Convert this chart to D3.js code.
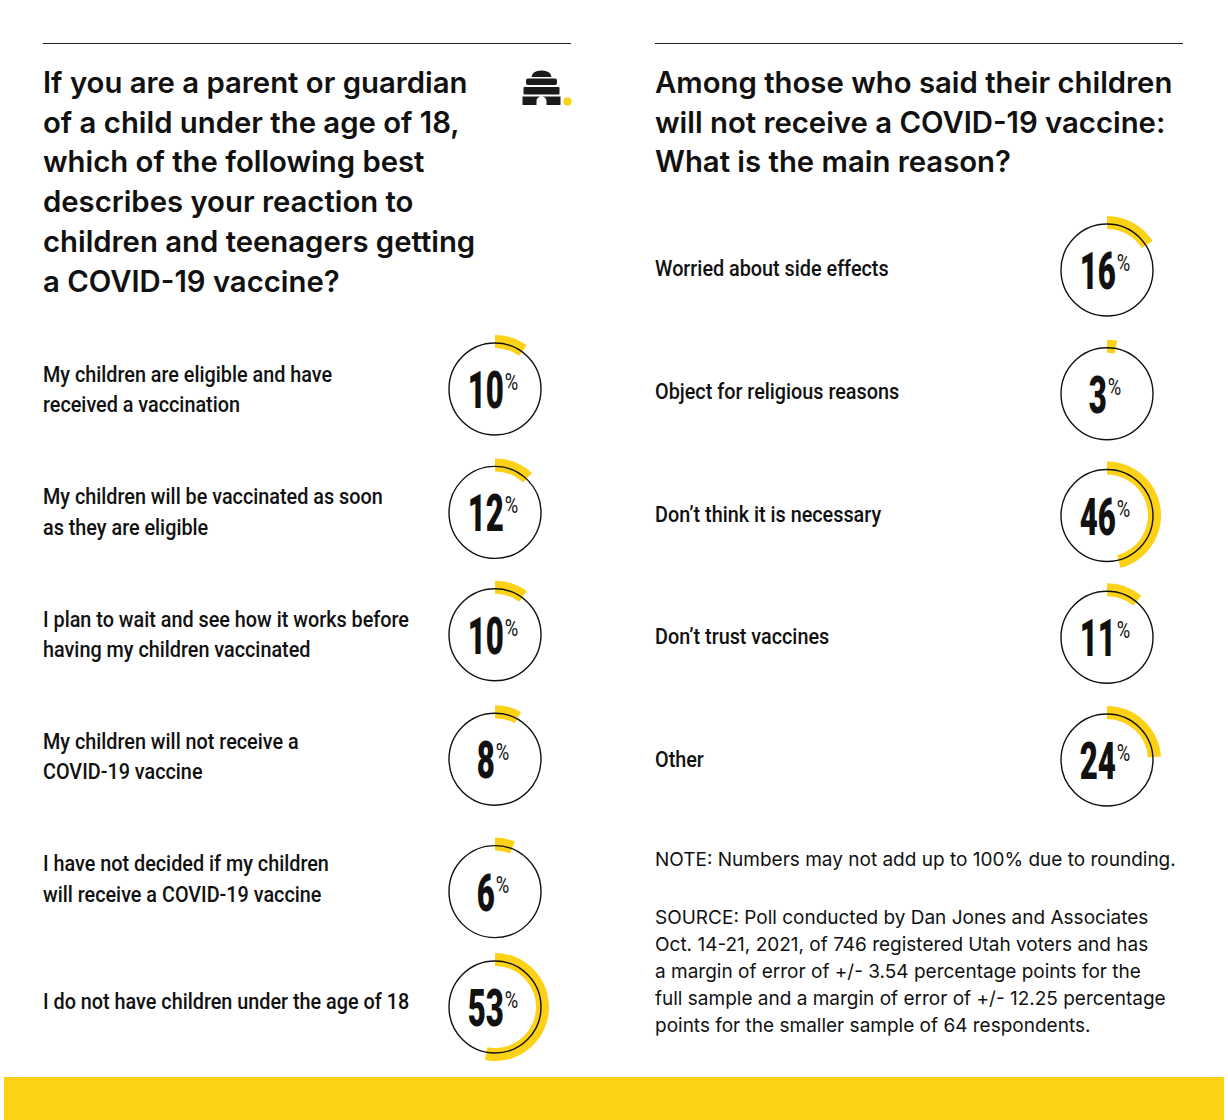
<!DOCTYPE html>
<html>
<head>
<meta charset="utf-8">
<script src="https://cdn.jsdelivr.net/npm/d3@7"></script>
<style>
  body { margin: 0; background: #fff; }
  svg { display: block; }
</style>
</head>
<body>
<script>
// data
var leftQuestion = [
  "If you are a parent or guardian",
  "of a child under the age of 18,",
  "which of the following best",
  "describes your reaction to",
  "children and teenagers getting",
  "a COVID-19 vaccine?"
];
var leftLabels = [
  ["My children are eligible and have", "received a vaccination"],
  ["My children will be vaccinated as soon", "as they are eligible"],
  ["I plan to wait and see how it works before", "having my children vaccinated"],
  ["My children will not receive a", "COVID-19 vaccine"],
  ["I have not decided if my children", "will receive a COVID-19 vaccine"],
  ["I do not have children under the age of 18"]
];
var leftValues = [10, 12, 10, 8, 6, 53];

var rightQuestion = [
  "Among those who said their children",
  "will not receive a COVID-19 vaccine:",
  "What is the main reason?"
];
var rightLabels = [
  ["Worried about side effects"],
  ["Object for religious reasons"],
  ["Don\u2019t think it is necessary"],
  ["Don\u2019t trust vaccines"],
  ["Other"]
];
var rightValues = [16, 3, 46, 11, 24];

var noteText = "NOTE: Numbers may not add up to 100% due to rounding.";
var sourceLines = [
  "SOURCE: Poll conducted by Dan Jones and Associates",
  "Oct. 14-21, 2021, of 746 registered Utah voters and has",
  "a margin of error of +/- 3.54 percentage points for the",
  "full sample and a margin of error of +/- 12.25 percentage",
  "points for the smaller sample of 64 respondents."
];

// layout
var width = 1228, height = 1120;
var yellow = "#fcd116";
var titleFont = "Inter, Roboto, sans-serif";
var condensedX = 0.88;   // horizontal squeeze for label text
var digitX = 0.6;        // horizontal squeeze for big numbers
var pctX = 0.8;
var leftNudge = [0, 1, 1, 3, 13, 6];
var rightNudge = [2, 3, 2, 1, 1];

var svg = d3.select("body").append("svg")
    .attr("width", width)
    .attr("height", height);

// top rules
svg.append("line").attr("x1", 43).attr("x2", 571).attr("y1", 43.5).attr("y2", 43.5)
    .attr("stroke", "#222").attr("stroke-width", 1.2);
svg.append("line").attr("x1", 655).attr("x2", 1183).attr("y1", 43.5).attr("y2", 43.5)
    .attr("stroke", "#222").attr("stroke-width", 1.2);

// question headings
function heading(lines, x) {
    svg.append("g").selectAll("text")
        .data(lines)
        .enter().append("text")
        .attr("x", x)
        .attr("y", function(d, i) { return 93 + i * 39.7; })
        .attr("font-family", titleFont)
        .attr("font-weight", 600)
        .attr("font-size", 29.3)
        .attr("fill", "#111")
        .text(function(d) { return d; });
}
heading(leftQuestion, 43);
heading(rightQuestion, 655);

// beehive icon
var hive = svg.append("g").attr("fill", "#1a1a1a");
hive.append("path").attr("d", "M531.5,77 Q532,70.5 541.5,70.5 Q551,70.5 551.5,77 Z");
hive.append("rect").attr("x", 526).attr("y", 78.5).attr("width", 31).attr("height", 6.5).attr("rx", 2);
hive.append("rect").attr("x", 523.5).attr("y", 87).attr("width", 36).attr("height", 7.5).attr("rx", 1);
hive.append("path").attr("d", "M522.5,96.5 H560.5 V105 H546.5 V101 A5,4.5 0 0 0 536.5,101 V105 H522.5 Z");
svg.append("circle").attr("cx", 567.5).attr("cy", 101.5).attr("r", 4.2).attr("fill", yellow);

// scales
var angle = d3.scaleLinear().domain([0, 100]).range([0, 2 * Math.PI]);
var arc = d3.arc().innerRadius(41).outerRadius(54).startAngle(0)
    .endAngle(function(d) { return angle(d); });

var yLeft = d3.scalePoint().domain(d3.range(leftValues.length)).range([389, 1001]);
var yRight = d3.scalePoint().domain(d3.range(rightValues.length)).range([268, 759]);

function column(labels, values, yScale, nudge, labelX, cx) {
    var rows = svg.append("g").selectAll(".row")
        .data(values)
        .enter().append("g")
        .attr("class", "row");

    // label lines
    rows.each(function(d, i) {
        var lines = labels[i];
        var g = d3.select(this);
        lines.forEach(function(line, j) {
            var ly = yScale(i) + (j - (lines.length - 1) / 2) * 30.5 + 8;
            g.append("text")
                .attr("transform", "translate(" + labelX + "," + ly + ") scale(" + condensedX + ",1)")
                .attr("font-family", "Roboto, sans-serif")
                .attr("font-weight", 500)
                .attr("font-size", 22.5)
                .attr("fill", "#111")
                .text(line);
        });
    });

    var donut = rows.append("g")
        .attr("transform", function(d, i) { return "translate(" + cx + "," + (yScale(i) + nudge[i]) + ")"; });

    donut.append("path")
        .attr("d", function(d) { return arc(d); })
        .attr("fill", yellow);

    donut.append("circle")
        .attr("r", 46)
        .attr("fill", "none")
        .attr("stroke", "#111")
        .attr("stroke-width", 1.4);

    donut.each(function(d) {
        var g = d3.select(this);
        var num = g.append("text")
            .attr("font-family", "Roboto, sans-serif")
            .attr("font-weight", 900)
            .attr("font-size", 52)
            .attr("fill", "#111")
            .text(d);
        var pct = g.append("text")
            .attr("font-family", "Roboto, sans-serif")
            .attr("font-weight", 400)
            .attr("font-size", 23)
            .attr("fill", "#111")
            .text("%");
        var wn = num.node().getComputedTextLength() * digitX;
        var wp = pct.node().getComputedTextLength() * pctX;
        var gap = 1;
        var x0 = -2 - (wn + gap + wp) / 2;
        num.attr("transform", "translate(" + x0 + ",19) scale(" + digitX + ",1)");
        pct.attr("transform", "translate(" + (x0 + wn + gap) + ",1) scale(" + pctX + ",1)");
    });
}

column(leftLabels, leftValues, yLeft, leftNudge, 43, 495);
column(rightLabels, rightValues, yRight, rightNudge, 655, 1107);

// note and source
svg.append("text")
    .attr("x", 655).attr("y", 866)
    .attr("font-family", titleFont)
    .attr("font-size", 19)
    .attr("fill", "#111")
    .text(noteText);

svg.append("g").selectAll("text")
    .data(sourceLines)
    .enter().append("text")
    .attr("x", 655)
    .attr("y", function(d, i) { return 924 + i * 27; })
    .attr("font-family", titleFont)
    .attr("font-size", 19)
    .attr("fill", "#111")
    .text(function(d) { return d; });

// bottom band
svg.append("rect")
    .attr("x", 4).attr("y", 1077)
    .attr("width", 1220).attr("height", 43)
    .attr("fill", yellow);
</script>
</body>
</html>
